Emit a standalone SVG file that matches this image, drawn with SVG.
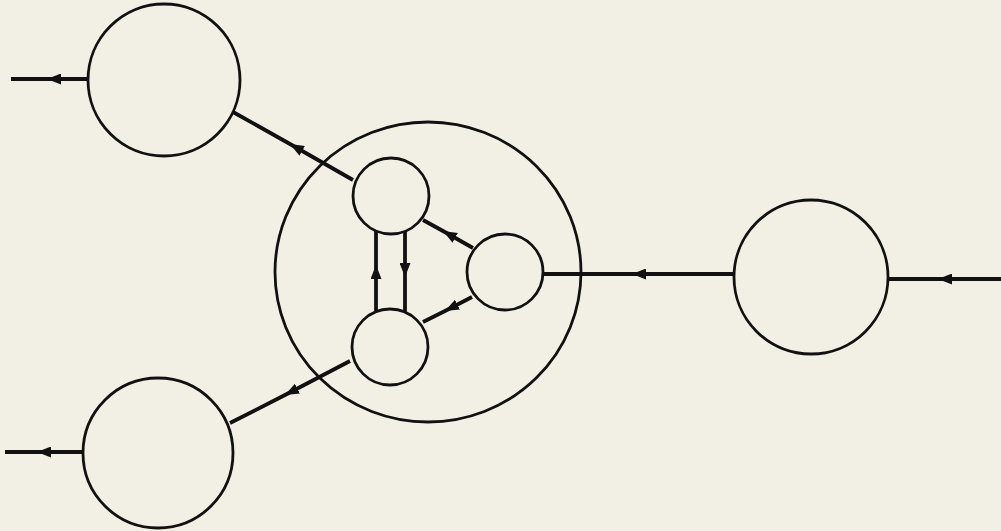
<svg xmlns="http://www.w3.org/2000/svg" width="1001" height="531" viewBox="0 0 1001 531">
<defs>
<style>
.node{fill:none;stroke:#111;stroke-width:2.8}
.conn{fill:none;stroke:#111;stroke-width:3.8;marker-mid:url(#arr)}
</style>
<marker id="arr" viewBox="0 0 14 11" refX="14" refY="5.5" markerUnits="userSpaceOnUse" markerWidth="14" markerHeight="11" orient="auto">
<path d="M0,0 L14,5.5 L0,11 Z" fill="#111"/>
</marker>
</defs>
<rect width="1001" height="531" fill="#f2f0e4"/>
<g id="connectors">
<path class="conn" d="M1001,279 L938,279 L888,279"/>
<path class="conn" d="M734,274 L632,274 L543,274"/>
<path class="conn" d="M353,180 L290,144 L233,112"/>
<path class="conn" d="M88,79 L47,79 L11,79"/>
<path class="conn" d="M350,361 L285,395 L230,423"/>
<path class="conn" d="M82,452 L37,452 L5,452"/>
<path class="conn" d="M473,248 L443,231 L423,220"/>
<path class="conn" d="M472,297 L445,311 L423,322"/>
<path class="conn" d="M376,312 L376,265 L376,231"/>
<path class="conn" d="M405,231 L405,277 L405,312"/>
</g>
<g id="node-top-left"><circle class="node" cx="164" cy="80" r="76"/></g>
<g id="node-bottom-left"><circle class="node" cx="158" cy="453" r="75"/></g>
<g id="node-right"><circle class="node" cx="811" cy="277" r="77"/></g>
<g id="node-outer"><ellipse class="node" cx="428" cy="272" rx="153" ry="150"/></g>
<g id="node-inner-top"><circle class="node" cx="391" cy="196" r="38"/></g>
<g id="node-inner-right"><circle class="node" cx="505" cy="272" r="38"/></g>
<g id="node-inner-bottom"><circle class="node" cx="390" cy="347" r="38"/></g>
</svg>
